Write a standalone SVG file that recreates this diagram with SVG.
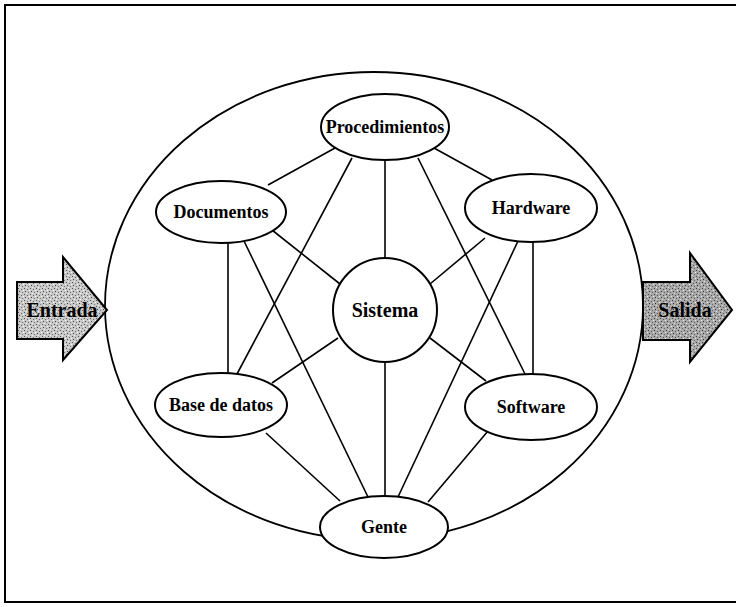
<svg xmlns="http://www.w3.org/2000/svg" width="736" height="607" viewBox="0 0 736 607">
<defs>
<pattern id="stip" width="6" height="6" patternUnits="userSpaceOnUse">
<rect width="6" height="6" fill="#c8c8c8"/>
<rect x="0" y="0" width="1" height="1" fill="#555"/>
<rect x="3" y="1" width="1" height="1" fill="#666"/>
<rect x="1" y="3" width="1" height="1" fill="#444"/>
<rect x="4" y="4" width="1" height="1" fill="#777"/>
<rect x="5" y="2" width="1" height="1" fill="#fff"/>
<rect x="2" y="5" width="1" height="1" fill="#eee"/>
</pattern>
<pattern id="stip2" width="6" height="6" patternUnits="userSpaceOnUse">
<rect width="6" height="6" fill="#a8a8a8"/>
<rect x="0" y="0" width="1" height="1" fill="#444"/>
<rect x="3" y="1" width="1" height="1" fill="#555"/>
<rect x="1" y="3" width="1" height="1" fill="#333"/>
<rect x="4" y="4" width="1" height="1" fill="#666"/>
<rect x="5" y="2" width="1" height="1" fill="#eee"/>
<rect x="2" y="5" width="1" height="1" fill="#ddd"/>
</pattern>
</defs>
<style>
.n{fill:#fff;stroke:#000;stroke-width:2}
.t{font-family:"Liberation Serif","Times New Roman",serif;font-weight:bold;font-size:18px;fill:#000;text-anchor:middle}
.c line{stroke:#000;stroke-width:1.6}
.arr{stroke:#000;stroke-width:2}
</style>
<rect x="5" y="5" width="745" height="597" fill="#fff" stroke="#000" stroke-width="2"/>
<g id="frontera"><ellipse cx="374" cy="306" rx="269" ry="234" fill="none" stroke="#000" stroke-width="1.8"/></g>
<g class="c" id="connectors">
<line x1="335" y1="148" x2="268" y2="185"/>
<line x1="434" y1="148" x2="492" y2="180"/>
<line x1="385" y1="160" x2="385" y2="258"/>
<line x1="352" y1="158" x2="237" y2="374"/>
<line x1="418" y1="158" x2="525" y2="374"/>
<line x1="228" y1="242" x2="228" y2="373"/>
<line x1="272" y1="230" x2="340" y2="284"/>
<line x1="244" y1="241" x2="368" y2="497"/>
<line x1="485" y1="238" x2="430" y2="284"/>
<line x1="533" y1="242" x2="533" y2="375"/>
<line x1="518" y1="241" x2="398" y2="497"/>
<line x1="272" y1="383" x2="338" y2="338"/>
<line x1="266" y1="433" x2="340" y2="501"/>
<line x1="486" y1="381" x2="430" y2="338"/>
<line x1="488" y1="431" x2="428" y2="502"/>
<line x1="385" y1="362" x2="385" y2="496"/>
</g>
<g id="procedimientos"><ellipse class="n" cx="385" cy="127" rx="64" ry="33"/><text class="t" x="385" y="133">Procedimientos</text></g>
<g id="documentos"><ellipse class="n" cx="221" cy="212" rx="65" ry="31"/><text class="t" x="221" y="218">Documentos</text></g>
<g id="hardware"><ellipse class="n" cx="531" cy="208" rx="66" ry="34"/><text class="t" x="531" y="214">Hardware</text></g>
<g id="sistema"><circle class="n" cx="385" cy="310" r="52"/><text class="t" x="385" y="317" style="font-size:20px">Sistema</text></g>
<g id="base"><ellipse class="n" cx="221" cy="405" rx="66" ry="32"/><text class="t" x="221" y="411">Base de datos</text></g>
<g id="software"><ellipse class="n" cx="531" cy="407" rx="66" ry="33"/><text class="t" x="531" y="413">Software</text></g>
<g id="gente"><ellipse class="n" cx="384" cy="527" rx="64" ry="31"/><text class="t" x="384" y="533">Gente</text></g>
<g id="entrada"><path class="arr" d="M17,282 H63 V257 L107,310 L63,360 V339 H17 Z" fill="url(#stip)"/><text class="t" x="62" y="317" style="font-size:20px">Entrada</text></g>
<g id="salida"><path class="arr" d="M643,282 H690 V253 L732,310 L690,362 V340 H643 Z" fill="url(#stip2)"/><text class="t" x="685" y="317" style="font-size:20px">Salida</text></g>
</svg>
